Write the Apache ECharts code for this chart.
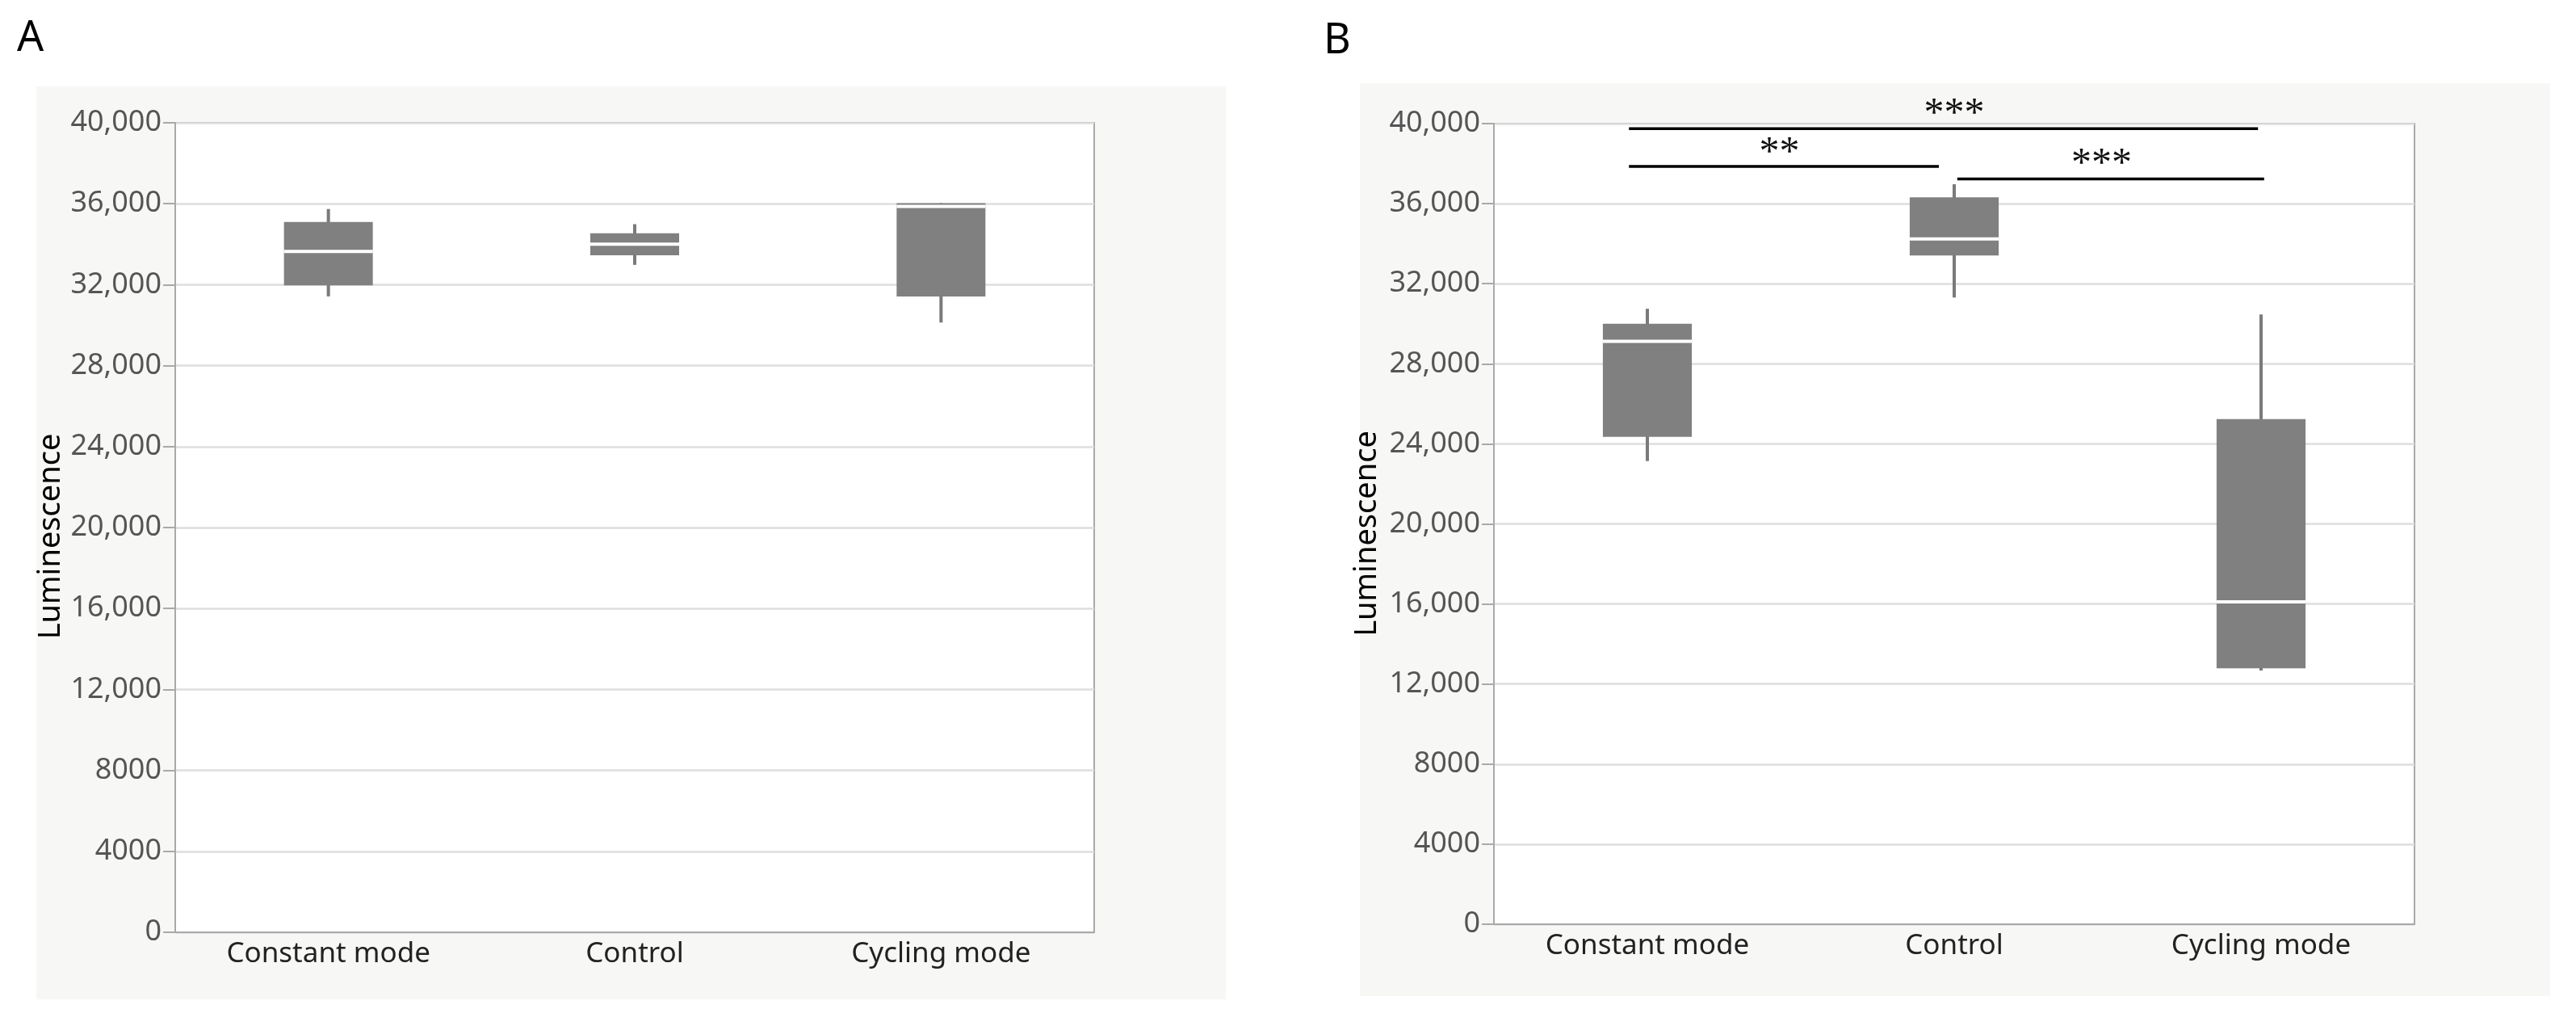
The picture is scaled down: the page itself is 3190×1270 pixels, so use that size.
<!DOCTYPE html>
<html>
<head>
<meta charset="utf-8">
<script src="https://cdn.jsdelivr.net/npm/echarts@6/dist/echarts.min.js"></script>
<style>html,body{margin:0;padding:0;background:#fff}#c{width:3190px;height:1270px}</style>
</head>
<body>
<div id="c"></div>
<script>
const categories = ['Constant mode', 'Control', 'Cycling mode'];
const yTicks = [0, 4000, 8000, 12000, 16000, 20000, 24000, 28000, 32000, 36000, 40000];

// Panel A (min, q1, median, q3, max per category)
const aMin    = [31420, 32980, 30130];
const aQ1     = [31970, 33450, 31420];
const aMedian = [33640, 34000, 35870];
const aQ3     = [35100, 34540, 36030];
const aMax    = [35740, 34990, 36030];

// Panel B
const bMin    = [23140, 31310, 12670];
const bQ1     = [24350, 33410, 12790];
const bMedian = [29120, 34240, 16100];
const bQ3     = [30000, 36320, 25240];
const bMax    = [30750, 36970, 30460];

// Significance annotations in panel B (category-index space, value space)
const sigLabels = ['***', '**', '***'];
const sigFrom   = [-0.06, -0.06, 1.01];
const sigTo     = [1.99, 0.95, 2.01];
const sigLevel  = [39750, 37860, 37240];
const sigTextX  = [1.0, 0.43, 1.48];
const sigTextY  = [40600, 38660, 38090];

function boxData(mn, q1, md, q3, mx) {
  return categories.map((c, i) => [i, mn[i], q1[i], md[i], q3[i], mx[i]]);
}

function renderBox(params, api) {
  const x = api.value(0);
  const lo = api.coord([x, api.value(1)]);
  const q1 = api.coord([x, api.value(2)]);
  const md = api.coord([x, api.value(3)]);
  const q3 = api.coord([x, api.value(4)]);
  const hi = api.coord([x, api.value(5)]);
  const bw = api.size([1, 0])[0] * 0.29;
  return {
    type: 'group',
    children: [
      { type: 'line', shape: { x1: lo[0], y1: lo[1], x2: hi[0], y2: hi[1] }, style: { stroke: '#7a7a7a', lineWidth: 4 } },
      { type: 'rect', shape: { x: q3[0] - bw / 2, y: q3[1], width: bw, height: q1[1] - q3[1] }, style: { fill: '#808080' } },
      { type: 'line', shape: { x1: md[0] - bw / 2, y1: md[1], x2: md[0] + bw / 2, y2: md[1] }, style: { stroke: '#ffffff', lineWidth: 4 } }
    ]
  };
}

function renderSig(params, api) {
  const i = params.dataIndex;
  const p1 = api.coord([api.value(0), api.value(2)]);
  const p2 = api.coord([api.value(1), api.value(2)]);
  const t = api.coord([api.value(3), api.value(4)]);
  return {
    type: 'group',
    children: [
      { type: 'line', shape: { x1: p1[0], y1: p1[1], x2: p2[0], y2: p2[1] }, style: { stroke: '#000', lineWidth: 3.5 } },
      { type: 'text', x: t[0], y: t[1] + 4, style: { text: sigLabels[i], fill: '#111', font: '50px "Liberation Serif"', align: 'center', verticalAlign: 'middle' } }
    ]
  };
}

const fmt = v => v >= 10000 ? v.toLocaleString('en-US') : String(v);
const labelFont = '"Noto Sans", sans-serif';

function yAxis(gridIndex, gap, pad) {
  return {
    type: 'value', gridIndex, min: 0, max: 40000, interval: 4000,
    name: 'Luminescence', nameLocation: 'middle', nameGap: gap,
    nameTextStyle: { fontSize: 38, color: '#000', fontFamily: labelFont, padding: pad },
    axisLine: { show: true, onZero: false, lineStyle: { color: '#a9a9a9', width: 2 } },
    axisTick: { show: true, length: 15, lineStyle: { color: '#a9a9a9', width: 2 } },
    axisLabel: { fontSize: 36, color: '#555', fontFamily: labelFont, margin: 17, formatter: fmt },
    splitLine: { show: true, lineStyle: { color: '#dedede', width: 2.5 } }
  };
}
function xAxis(gridIndex) {
  return {
    type: 'category', gridIndex, data: categories, boundaryGap: true,
    axisLine: { show: true, onZero: false, lineStyle: { color: '#a9a9a9', width: 2 } },
    axisTick: { show: false },
    axisLabel: { fontSize: 35, color: '#222', fontFamily: labelFont, margin: 10 }
  };
}

const chart = echarts.init(document.getElementById('c'));
chart.setOption({
  animation: false,
  backgroundColor: '#ffffff',
  graphic: [
    { type: 'rect', z: -10, shape: { x: 45, y: 107, width: 1473, height: 1130 }, style: { fill: '#f7f7f6' } },
    { type: 'rect', z: -10, shape: { x: 1684, y: 103, width: 1474, height: 1130 }, style: { fill: '#f7f7f6' } },
    { type: 'text', left: 21, top: 22, style: { text: 'A', font: '52px "Noto Sans"', fill: '#000' } },
    { type: 'text', left: 1639, top: 25, style: { text: 'B', font: '52px "Noto Sans"', fill: '#000' } }
  ],
  grid: [
    { left: 217, top: 152, width: 1138, height: 1002, show: true, backgroundColor: '#fff', borderColor: '#a9a9a9', borderWidth: 2 },
    { left: 1850, top: 153, width: 1140, height: 991, show: true, backgroundColor: '#fff', borderColor: '#a9a9a9', borderWidth: 2 }
  ],
  xAxis: [
    xAxis(0), xAxis(1),
    { type: 'value', gridIndex: 1, min: -0.5, max: 2.5, show: false }
  ],
  yAxis: [yAxis(0, 135, [0, 22, 0, 0]), yAxis(1, 138, [0, 24, 0, 0])],
  series: [
    { type: 'custom', xAxisIndex: 0, yAxisIndex: 0, renderItem: renderBox, data: boxData(aMin, aQ1, aMedian, aQ3, aMax), encode: { x: 0, y: [1, 2, 3, 4, 5] } },
    { type: 'custom', xAxisIndex: 1, yAxisIndex: 1, renderItem: renderBox, data: boxData(bMin, bQ1, bMedian, bQ3, bMax), encode: { x: 0, y: [1, 2, 3, 4, 5] } },
    { type: 'custom', xAxisIndex: 2, yAxisIndex: 1, renderItem: renderSig, clip: false, z: 5,
      data: sigLabels.map((s, i) => [sigFrom[i], sigTo[i], sigLevel[i], sigTextX[i], sigTextY[i]]),
      encode: { x: [0, 1, 3], y: [2, 4] } }
  ]
});
</script>
</body>
</html>
